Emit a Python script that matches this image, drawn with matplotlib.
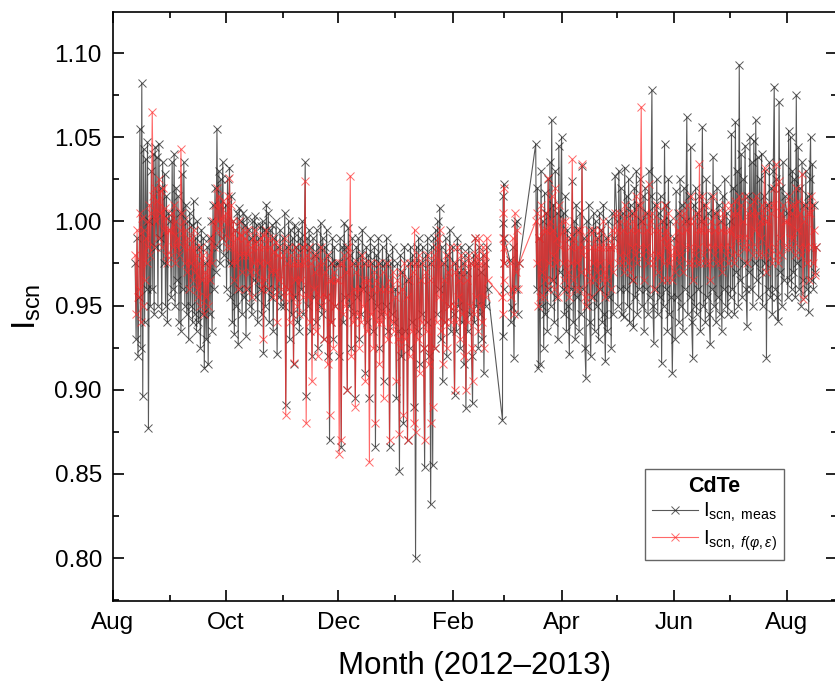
#!/usr/bin/env python3
"""Scene current index of a CdTe module, measured vs. modelled, Aug 2012 - Aug 2013."""

import matplotlib

matplotlib.use("Agg")
import matplotlib.dates as mdates
import matplotlib.pyplot as plt
import numpy as np
import pandas as pd
from matplotlib.ticker import FormatStrFormatter, MultipleLocator

plt.rcParams.update(
    {
        "font.family": ["Liberation Sans", "DejaVu Sans"],
        "mathtext.fontset": "custom",
        "mathtext.rm": "Liberation Sans",
        "mathtext.it": "Liberation Sans:italic",
        "mathtext.bf": "Liberation Sans:bold",
    }
)

# values in thousandths (975 -> 0.975), one pair of lists per block of days
MEAS_AUG12 = [975, 930, 990, 920, 955, 1055, 925, 1082, 896, 1043, 940, 1037, 960, 1047, 877, 1000, 950, 1030,
              960, 1040, 945, 1044, 985, 1038, 950, 1046, 990, 1020, 945, 1035, 975, 1028, 950, 1015, 940, 1005]
FIT_AUG12 = [980, 945, 995, 955, 960, 1005, 940, 1002, 950, 995, 965, 990, 975, 1000, 985, 1010, 980, 1005,
             1065, 1015, 985, 1020, 1000, 1012, 990, 1025, 1005, 1018, 985, 1020, 995, 1008, 980, 1002, 975, 995]

MEAS_SEP12 = [1000, 955, 1035, 960, 1040, 950, 1020, 965, 1015, 940, 1005, 935, 1028, 960, 1035, 950, 1010, 945,
              1000, 930, 1005, 950, 998, 940, 1012, 945, 990, 935, 1000, 940, 985, 925, 995, 945, 990, 913,
              975, 930, 985, 915, 990, 945, 1000, 935, 1010, 960, 1020, 970, 1055, 985, 1030, 975, 1025, 990,
              1035, 980]
FIT_SEP12 = [995, 980, 1005, 985, 1010, 975, 1000, 985, 990, 980, 995, 1043, 1005, 985, 1000, 975, 995, 970,
             990, 960, 985, 975, 990, 965, 995, 970, 985, 960, 980, 955, 975, 950, 985, 965, 980, 945,
             970, 955, 975, 950, 980, 965, 990, 975, 1000, 985, 1010, 995, 1020, 1000, 1015, 995, 1010, 990,
             1012, 1000]

MEAS_OCT12 = [1010, 960, 1025, 975, 1032, 955, 1015, 940, 1000, 933, 995, 950, 1005, 927, 1008, 960, 1000, 945,
              1005, 955, 998, 932, 1002, 960, 995, 950, 990, 945, 1000, 965, 1003, 955, 998, 940, 990, 960,
              997, 945, 1000, 922, 995, 950, 1010, 960, 1005, 940, 995, 955, 998, 935, 990, 960, 1000, 921,
              985, 955, 995, 950]
FIT_OCT12 = [1005, 985, 1015, 990, 1026, 985, 1010, 975, 1000, 965, 995, 975, 990, 960, 1000, 980, 992, 970,
             995, 980, 990, 960, 995, 980, 988, 970, 985, 955, 990, 975, 995, 970, 988, 965, 985, 975,
             990, 960, 992, 930, 985, 965, 995, 975, 990, 960, 985, 970, 990, 955, 982, 970, 988, 940,
             980, 965, 985, 960]

MEAS_NOV12 = [990, 950, 1005, 891, 985, 960, 1000, 930, 995, 945, 990, 915, 998, 955, 985, 940, 995, 935,
              990, 960, 1000, 945, 985, 1035, 896, 990, 950, 995, 935, 985, 920, 990, 955, 980, 940, 995,
              925, 985, 950, 999, 945, 990, 930, 985, 955, 995, 920, 980, 870, 975, 940, 990, 930, 985,
              950, 975]
FIT_NOV12 = [980, 955, 990, 885, 975, 960, 985, 940, 980, 955, 975, 916, 985, 965, 975, 950, 980, 945,
             975, 965, 985, 955, 975, 1024, 880, 980, 955, 985, 940, 975, 905, 980, 960, 970, 935, 980,
             920, 975, 955, 985, 950, 975, 930, 970, 955, 980, 915, 965, 885, 965, 940, 975, 925, 970,
             950, 965]

MEAS_DEC12 = [975, 920, 990, 866, 985, 940, 999, 955, 985, 900, 996, 950, 980, 925, 990, 945, 975, 895,
              985, 955, 990, 930, 980, 945, 995, 960, 975, 910, 985, 940, 980, 895, 990, 955, 975, 935,
              985, 866, 980, 950, 990, 925, 975, 945, 985, 905, 975, 950, 990, 935, 980, 866, 975, 945,
              985, 940]
FIT_DEC12 = [965, 862, 975, 870, 975, 945, 980, 950, 970, 900, 985, 955, 1027, 920, 975, 940, 960, 890,
             970, 945, 975, 925, 960, 940, 980, 950, 965, 905, 975, 935, 965, 857, 975, 945, 960, 925,
             970, 880, 965, 940, 975, 915, 960, 940, 970, 895, 960, 945, 975, 930, 965, 870, 960, 940,
             970, 935]

MEAS_JAN13 = [960, 895, 975, 935, 852, 980, 920, 970, 880, 985, 935, 965, 870, 975, 925, 985, 940, 980,
              890, 975, 800, 985, 935, 990, 915, 975, 945, 985, 925, 854, 980, 940, 990, 920, 975, 832,
              985, 855, 990, 925, 995, 945, 1000, 960, 1008, 930, 985, 905, 975, 940, 990, 920, 980, 950,
              995, 935]
FIT_JAN13 = [955, 905, 965, 930, 874, 970, 925, 960, 885, 975, 930, 955, 870, 965, 920, 975, 935, 970,
             880, 995, 875, 975, 930, 980, 910, 965, 940, 975, 925, 870, 970, 935, 980, 915, 965, 880,
             975, 890, 980, 925, 985, 940, 990, 955, 995, 935, 975, 915, 965, 940, 980, 925, 970, 950,
             985, 940]

MEAS_FEB13 = [985, 945, 897, 975, 935, 990, 950, 970, 925, 985, 940, 975, 915, 980, 889, 970, 935, 985,
              945, 975, 920, 892, 980, 940, 990, 950, 975, 925, 985, 945, 970, 930, 980, 910, 975, 950,
              985, 960]
FIT_FEB13 = [975, 950, 900, 970, 940, 985, 955, 965, 930, 980, 945, 970, 920, 975, 900, 965, 940, 980,
             950, 975, 925, 905, 975, 945, 990, 955, 980, 935, 990, 950, 975, 940, 985, 925, 980, 955,
             990, 965]

MEAS_FEB_END = [882, 999, 932, 1015, 960, 1022, 975, 990]
FIT_FEB_END = [955, 990, 945, 1005, 965, 1020, 975, 985]

MEAS_MAR_EARLY = [977, 940, 949, 985, 919, 999, 960, 1000, 945, 975]
FIT_MAR_EARLY = [975, 955, 960, 990, 945, 1005, 970, 995, 960, 975]

MEAS_MAR13 = [1046, 960, 1020, 913, 990, 915, 1030, 950, 1000, 925, 1017, 945, 1005, 935, 1025, 960, 1035, 950,
              1060, 965, 1010, 940, 1030, 955, 1005, 930, 1045, 970]
FIT_MAR13 = [1000, 975, 1005, 950, 990, 955, 1010, 970, 995, 955, 1005, 965, 995, 960, 1026, 975, 1000, 965,
             1015, 980, 995, 960, 1020, 975, 990, 955, 1010, 985]

MEAS_APR13 = [1050, 960, 1005, 945, 1015, 935, 995, 950, 921, 990, 960, 1024, 940, 1000, 930, 1010, 955, 995,
              935, 1005, 945, 1033, 960, 990, 925, 907, 1000, 950, 1010, 940, 920, 995, 955, 1005, 935, 1000,
              950, 990, 930, 1005, 960, 995, 940, 1010, 945, 917, 990, 935, 1000, 955, 985, 925, 1005, 945,
              990, 1027]
FIT_APR13 = [1000, 975, 995, 965, 1000, 960, 990, 970, 955, 985, 975, 1037, 965, 990, 960, 995, 975, 985,
             960, 995, 970, 1034, 980, 985, 955, 950, 990, 970, 995, 965, 955, 985, 975, 995, 965, 990,
             970, 985, 960, 995, 975, 985, 965, 1000, 970, 955, 985, 965, 990, 975, 985, 960, 995, 970,
             985, 1005]

MEAS_MAY13 = [1000, 950, 1030, 960, 1020, 945, 1005, 943, 1032, 960, 1015, 950, 1025, 940, 1010, 965, 1005, 937,
              1020, 955, 1030, 945, 1010, 960, 1025, 1000, 950, 1015, 935, 1020, 960, 1005, 945, 1030, 955, 1015,
              1078, 950, 928, 1010, 960, 1025, 945, 1005, 955, 1015, 916, 1000, 950, 1046, 960, 1010, 935, 1025,
              945, 1000, 955, 910]
FIT_MAY13 = [995, 975, 1005, 980, 1000, 975, 995, 970, 1010, 980, 1000, 975, 1005, 970, 995, 985, 1000, 965,
             1005, 980, 1015, 975, 995, 985, 1010, 1068, 980, 1000, 965, 1005, 985, 995, 975, 1022, 980, 1000,
             1005, 975, 960, 995, 980, 1010, 970, 995, 980, 1000, 965, 990, 975, 1010, 985, 995, 965, 1005,
             975, 990, 980, 965]

MEAS_JUN13 = [990, 930, 1018, 955, 1005, 940, 1025, 950, 1010, 935, 1020, 960, 1000, 1062, 945, 1015, 955, 1044,
              940, 919, 1010, 950, 1020, 945, 1005, 960, 1015, 935, 1000, 1056, 950, 1010, 940, 1025, 955, 1005,
              945, 927, 1015, 960, 1038, 950, 1005, 940, 1020, 955, 1010, 945, 1000, 935, 1015, 960, 1025, 950,
              1005, 945]
FIT_JUN13 = [985, 970, 1000, 980, 995, 975, 1005, 980, 1000, 970, 1005, 985, 995, 1010, 975, 1000, 985, 1015,
             975, 965, 1000, 980, 1005, 975, 995, 985, 1034, 975, 995, 1015, 980, 1000, 975, 1010, 985, 995,
             975, 965, 1000, 985, 1015, 980, 995, 975, 1005, 985, 1000, 975, 995, 970, 1005, 985, 1010, 980,
             995, 975]

MEAS_JUL13 = [1000, 955, 1052, 960, 1020, 945, 1059, 970, 1030, 950, 1093, 965, 1040, 955, 1025, 975, 1045, 960,
              938, 1015, 970, 1050, 960, 1035, 950, 1048, 975, 1060, 965, 1038, 955, 1025, 970, 1040, 950, 1015,
              975, 1030, 919, 1010, 960, 1035, 955, 1020, 945, 1030, 1080, 960, 1025, 955, 941, 1071, 970, 1020,
              950, 1035, 965, 1015]
FIT_JUL13 = [995, 985, 1010, 980, 1005, 975, 1012, 990, 1005, 980, 1015, 990, 1010, 985, 1000, 990, 1015, 985,
             975, 1005, 990, 1010, 985, 1005, 980, 1012, 995, 1015, 985, 1005, 980, 1000, 990, 1010, 980, 1005,
             1032, 1000, 970, 1000, 985, 1010, 980, 1005, 975, 1010, 1020, 985, 1034, 980, 975, 1024, 990, 1005,
             980, 1010, 985, 1000]

MEAS_AUG13 = [1005, 955, 1054, 965, 1050, 960, 1030, 970, 1025, 955, 1075, 975, 1044, 960, 1020, 950, 1035, 965,
              1010, 955, 1030, 960, 1015, 946, 1025, 1050, 965, 1034, 960, 1010, 970, 985]
FIT_AUG13 = [1000, 985, 1015, 990, 1010, 985, 1005, 990, 1010, 980, 1020, 995, 1012, 985, 1005, 980, 1028, 954,
             1000, 985, 1010, 975, 1005, 965, 1005, 1015, 985, 1010, 975, 995, 968, 985]

# (first day, last day, measured, modelled) for each block of readings
BLOCKS = [
    ("2012-08-13", "2012-08-31", MEAS_AUG12, FIT_AUG12),
    ("2012-09-01", "2012-09-30", MEAS_SEP12, FIT_SEP12),
    ("2012-10-01", "2012-10-31", MEAS_OCT12, FIT_OCT12),
    ("2012-11-01", "2012-11-30", MEAS_NOV12, FIT_NOV12),
    ("2012-12-01", "2012-12-31", MEAS_DEC12, FIT_DEC12),
    ("2013-01-01", "2013-01-31", MEAS_JAN13, FIT_JAN13),
    ("2013-02-01", "2013-02-20", MEAS_FEB13, FIT_FEB13),
    ("2013-02-28", "2013-03-01", MEAS_FEB_END, FIT_FEB_END),
    ("2013-03-04", "2013-03-09", MEAS_MAR_EARLY, FIT_MAR_EARLY),
    ("2013-03-18", "2013-03-31", MEAS_MAR13, FIT_MAR13),
    ("2013-04-01", "2013-04-30", MEAS_APR13, FIT_APR13),
    ("2013-05-01", "2013-05-31", MEAS_MAY13, FIT_MAY13),
    ("2013-06-01", "2013-06-30", MEAS_JUN13, FIT_JUN13),
    ("2013-07-01", "2013-07-31", MEAS_JUL13, FIT_JUL13),
    ("2013-08-01", "2013-08-17", MEAS_AUG13, FIT_AUG13),
]


def build_series():
    times, meas, fit = [], [], []
    for start, end, m, f in BLOCKS:
        assert len(m) == len(f), (start, len(m), len(f))
        times.append(pd.date_range(start, end, periods=len(m)))
        meas.extend(m)
        fit.extend(f)
    t = times[0].append(times[1:])
    return t, np.array(meas) / 1000.0, np.array(fit) / 1000.0


def main():
    t, meas, fit = build_series()

    fig = plt.figure(figsize=(8.35, 6.88), dpi=100)
    ax = fig.add_axes([113 / 835, 1 - 601 / 688, 723.6 / 835, 589 / 688])

    ax.plot(t, meas, color="#222222", alpha=0.75, lw=0.8, marker="x", ms=6, mew=0.7,
            label=r"$\mathrm{I}_{\mathrm{scn,\ meas}}$")
    ax.plot(t, fit, color="#ff2a2a", alpha=0.7, lw=0.8, marker="x", ms=6, mew=0.7,
            label=r"$\mathrm{I}_{\mathrm{scn,}\ f(\varphi,\varepsilon)}$")

    ax.set_xlim(pd.Timestamp("2012-08-01"), pd.Timestamp("2013-08-28"))
    ax.set_ylim(0.7745, 1.1244)

    ax.xaxis.set_major_locator(mdates.MonthLocator(bymonth=[2, 4, 6, 8, 10, 12]))
    ax.xaxis.set_minor_locator(mdates.MonthLocator(bymonth=[1, 3, 5, 7, 9, 11]))
    ax.xaxis.set_major_formatter(mdates.DateFormatter("%b"))
    ax.yaxis.set_major_locator(MultipleLocator(0.05))
    ax.yaxis.set_minor_locator(MultipleLocator(0.025))
    ax.yaxis.set_major_formatter(FormatStrFormatter("%.2f"))

    ax.tick_params(which="both", direction="in", top=True, right=True, width=1.2)
    ax.tick_params(which="major", length=8, labelsize=17.5, pad=8)
    ax.tick_params(which="minor", length=4)
    for spine in ax.spines.values():
        spine.set_linewidth(1.2)

    ax.set_xlabel("Month (2012–2013)", fontsize=22.5, labelpad=12)
    ax.set_ylabel(r"$\mathrm{I}_{\mathrm{scn}}$", fontsize=24, labelpad=8)

    leg = ax.legend(loc="lower left", bbox_to_anchor=(0.735, 0.07), title="CdTe",
                    title_fontsize=15.5, fontsize=14.5, fancybox=False, edgecolor="#666666",
                    framealpha=1, handlelength=2.3, handletextpad=0.25, borderpad=0.35,
                    labelspacing=0.2, borderaxespad=0)
    leg.get_title().set_fontweight("bold")
    leg.get_frame().set_linewidth(1.0)

    fig.savefig("out.png", dpi=100)
    plt.close(fig)


if __name__ == "__main__":
    main()
